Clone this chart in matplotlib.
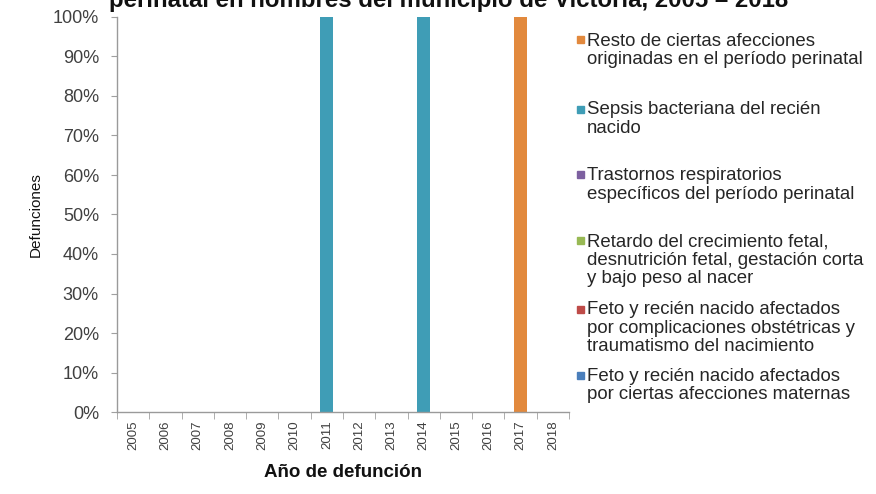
import matplotlib
matplotlib.use("Agg")
import matplotlib.pyplot as plt
import numpy as np
from matplotlib.patches import Rectangle

plt.rcParams['font.family'] = ['Liberation Sans', 'DejaVu Sans']

years = ['2005', '2006', '2007', '2008', '2009', '2010', '2011', '2012',
         '2013', '2014', '2015', '2016', '2017', '2018']

# death counts per cause (stack order bottom -> top)
feto_maternas = [0, 0, 0, 0, 0, 0, 0, 0, 0, 0, 0, 0, 0, 0]
feto_complicaciones = [0, 0, 0, 0, 0, 0, 0, 0, 0, 0, 0, 0, 0, 0]
retardo = [0, 0, 0, 0, 0, 0, 0, 0, 0, 0, 0, 0, 0, 0]
trastornos = [0, 0, 0, 0, 0, 0, 0, 0, 0, 0, 0, 0, 0, 0]
sepsis = [0, 0, 0, 0, 0, 0, 1, 0, 0, 1, 0, 0, 0, 0]
resto = [0, 0, 0, 0, 0, 0, 0, 0, 0, 0, 0, 0, 1, 0]

series_labels = [
    'Feto y recién nacido afectados\npor ciertas afecciones maternas',
    'Feto y recién nacido afectados\npor complicaciones obstétricas y\ntraumatismo del nacimiento',
    'Retardo del crecimiento fetal,\ndesnutrición fetal, gestación corta\ny bajo peso al nacer',
    'Trastornos respiratorios\nespecíficos del período perinatal',
    'Sepsis bacteriana del recién\nnacido',
    'Resto de ciertas afecciones\noriginadas en el período perinatal',
]
series_values = [feto_maternas, feto_complicaciones, retardo, trastornos, sepsis, resto]
colors = ['#4A7EBB', '#BE4B48', '#98B954', '#7D60A0', '#3F9DB6', '#E2893D']

W, H = 876, 494
fig = plt.figure(figsize=(W / 100, H / 100), dpi=100)
ax = fig.add_axes([117 / W, 1 - 412 / H, (569 - 117) / W, (412 - 17) / H])

data = np.array(series_values, dtype=float)
totals = data.sum(axis=0)
safe = np.where(totals == 0, 1, totals)
pct = data / safe * 100

x = np.arange(len(years))
bottom = np.zeros(len(years))
for vals, col, lab in zip(pct, colors, series_labels):
    ax.bar(x, vals, width=0.4, bottom=bottom, color=col, label=lab)
    bottom += vals

ax.set_xlim(-0.5, len(years) - 0.5)
ax.set_ylim(0, 100)
ax.set_yticks(np.arange(0, 101, 10))
ax.set_yticklabels([f'{v}%' for v in range(0, 101, 10)], fontsize=13, color='#404040')
ax.set_xticks(x)
ax.set_xticklabels(years, rotation=90, fontsize=9.5, color='#404040')
ax.set_xticks(np.arange(-0.5, len(years)), minor=True)
ax.tick_params(axis='x', which='major', length=0, pad=6)
ax.tick_params(axis='x', which='minor', length=5, color='#a0a0a0', direction='out')
ax.tick_params(axis='y', length=4, color='#a0a0a0', direction='out', pad=9)

for s in ['top', 'right']:
    ax.spines[s].set_visible(False)
for s in ['left', 'bottom']:
    ax.spines[s].set_color('#9a9a9a')
    ax.spines[s].set_linewidth(1.0)

ax.set_ylabel('Defunciones', fontsize=11, color='#111111')
ax.yaxis.set_label_coords(-0.165, 0.5)
ax.set_xlabel('Año de defunción', fontsize=13.5, fontweight='bold', color='#111111',
              va='center')
ax.xaxis.set_label_coords(0.5, -(472 - 412) / (412 - 17))

# title (mostly clipped at the top edge, as in the reference)
fig.text(449 / W, 1 - 7 / H, 'perinatal en hombres del municipio de Victoria, 2005 – 2018',
         ha='center', va='baseline', fontsize=17.3, fontweight='bold', color='#111111')

# legend, reversed order, manually spaced as in the reference
leg_centers = [40, 109, 175, 241, 309, 375]
for c, col, lab in zip(leg_centers, colors[::-1], series_labels[::-1]):
    fig.text(587 / W, 1 - (c - 7.5) / H, lab, ha='left', va='top', fontsize=13.4,
             color='#262626', linespacing=1.1)
    fig.patches.append(Rectangle((577 / W, 1 - (c + 3.5) / H), 7 / W, 7 / H,
                                 transform=fig.transFigure, color=col, figure=fig))

fig.savefig('out.png', dpi=100)
